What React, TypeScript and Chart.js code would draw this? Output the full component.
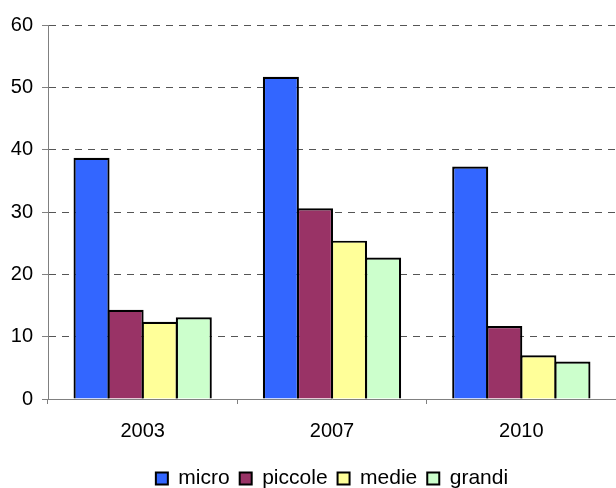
import React, { useEffect, useRef } from "react";
import { Chart, registerables } from "chart.js";

Chart.register(...registerables);

// Survey years on the category axis
const years = ["2003", "2007", "2010"];

// Share (%) by company size
const micro = [38.7, 51.7, 37.3];
const piccole = [14.3, 30.6, 11.7];
const medie = [12.4, 25.4, 7.0];
const grandi = [13.1, 22.7, 6.0];

const yTicks = [0, 10, 20, 30, 40, 50, 60];

const FONT = "'Liberation Sans', Arial, sans-serif";

export default function App() {
  const canvasRef = useRef<HTMLCanvasElement | null>(null);

  useEffect(() => {
    if (!canvasRef.current) return;
    // neighbouring bars overlap slightly so they share one outline
    const bar = (label: string, data: number[], color: string) => ({
      label,
      data,
      backgroundColor: color,
      borderColor: "#000000",
      borderWidth: 2.2,
      borderSkipped: "bottom" as const,
      categoryPercentage: 0.72,
      barPercentage: 1.058,
    });

    const chart = new Chart(canvasRef.current, {
      type: "bar",
      data: {
        labels: years,
        datasets: [
          bar("micro", micro, "#3366FF"),
          bar("piccole", piccole, "#993366"),
          bar("medie", medie, "#FFFF99"),
          bar("grandi", grandi, "#CCFFCC"),
        ],
      },
      options: {
        responsive: false,
        animation: false,
        layout: { padding: { top: 25, left: 0, right: 0, bottom: -11 } },
        plugins: {
          tooltip: { enabled: false },
          legend: {
            position: "bottom",
            fullSize: false,
            labels: {
              font: { family: FONT, size: 21 },
              color: "#000000",
              boxWidth: 12,
              boxHeight: 12,
              padding: 10,
              generateLabels: (c: any) =>
                c.data.datasets.map((ds: any, i: number) => ({
                  text: ds.label,
                  fillStyle: ds.backgroundColor,
                  strokeStyle: "#000000",
                  lineWidth: 2,
                  hidden: false,
                  datasetIndex: i,
                  fontColor: "#000000",
                })),
            },
          },
        },
        scales: {
          x: {
            grid: {
              offset: true,
              drawOnChartArea: false,
              drawTicks: true,
              tickLength: 5,
              color: "#808080",
            },
            border: { color: "#808080", width: 1 },
            ticks: {
              font: { family: FONT, size: 20 },
              color: "#000000",
              padding: 15,
            },
          },
          y: {
            min: 0,
            max: 60,
            afterBuildTicks: (scale: any) => {
              scale.ticks = yTicks.map((v) => ({ value: v }));
            },
            afterFit: (scale: any) => {
              scale.width = 48;
            },
            grid: {
              color: (ctx: any) =>
                ctx.tick && ctx.tick.value === 0 ? "rgba(0,0,0,0)" : "#555555",
              tickColor: "#808080",
              tickLength: 6,
              lineWidth: 1,
            },
            // dash applies to the gridlines; the axis line stays solid
            border: { color: "#808080", width: 1, dash: [7, 6] },
            ticks: {
              font: { family: FONT, size: 20 },
              color: "#000000",
              padding: 9,
            },
          },
        },
      },
    });

    return () => chart.destroy();
  }, []);

  return (
    <div style={{ position: "absolute", left: 0, top: 0, width: 616, height: 488, background: "#ffffff" }}>
      <canvas ref={canvasRef} width={616} height={488} />
    </div>
  );
}
